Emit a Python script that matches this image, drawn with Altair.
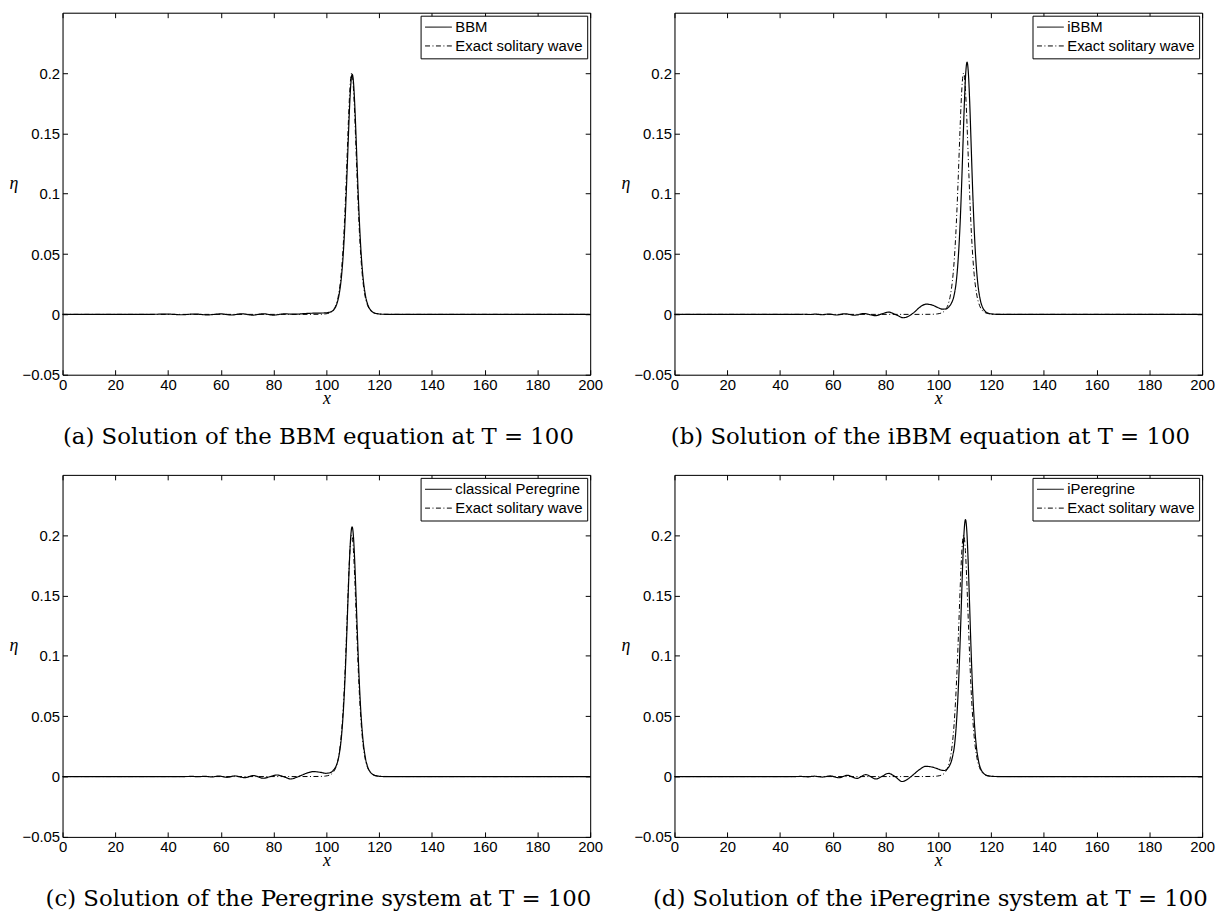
import altair as alt
import pandas as pd

# ---------------- data ----------------
x_ticks = [0, 20, 40, 60, 80, 100, 120, 140, 160, 180, 200]
y_ticks = [-0.05, 0, 0.05, 0.1, 0.15, 0.2]

exact_name = "Exact solitary wave"
exact_x = [0, 60, 90, 97.6, 99.6, 101.6, 102.6, 103.6, 104.6, 105.6,
           106.1, 106.6, 107.1, 107.6, 108.1, 108.6, 109.1, 109.6, 110.1, 110.6,
           111.1, 111.6, 112.1, 112.6, 113.1, 113.6, 114.6, 115.6, 116.6, 117.6,
           119.6, 121.6, 130, 160, 200]
exact_eta = [0, 0, 0, 0.0001, 0.0004, 0.0016, 0.0035, 0.0076, 0.0160, 0.0331,
             0.0468, 0.0651, 0.0882, 0.1157, 0.1453, 0.1728, 0.1927, 0.2000, 0.1927, 0.1728,
             0.1453, 0.1157, 0.0882, 0.0651, 0.0468, 0.0331, 0.0160, 0.0076, 0.0035, 0.0016,
             0.0004, 0.0001, 0, 0, 0]

bbm_x = [0, 30, 40, 45, 50, 55, 60, 64, 68, 72, 76, 80, 84, 88, 92, 95,
         97.8, 99.8, 101.8, 102.8, 103.8, 104.8, 105.8,
         106.3, 106.8, 107.3, 107.8, 108.3, 108.8, 109.3, 109.8, 110.3, 110.8,
         111.3, 111.8, 112.3, 112.8, 113.3,
         113.8, 114.8, 115.8, 116.8, 117.8, 119.8, 121.8, 130, 160, 200]
bbm_eta = [0, 0, 0.0002, -0.0003, 0.0003, -0.0004, 0.0004, -0.0005, 0.0005, -0.0006,
           0.0005, -0.0006, 0.0004, 0.0002, 0.0007, 0.0010,
           0.0011, 0.0013, 0.0022, 0.0038, 0.0077, 0.0161, 0.0330,
           0.0467, 0.0649, 0.0879, 0.1152, 0.1446, 0.1719, 0.1917, 0.1990, 0.1917, 0.1719,
           0.1446, 0.1151, 0.0878, 0.0648, 0.0466,
           0.0329, 0.0159, 0.0075, 0.0035, 0.0016, 0.0004, 0.0001, 0, 0, 0]

ibbm_x = [0, 40, 45, 49, 51, 53.5, 56, 58.5, 61.5, 64.5,
          68.3, 71.7, 76.1, 78.6, 81.1, 84, 86.7, 89, 91, 93,
          95.5, 98, 100, 101.5, 102.9, 103.9, 104.9, 105.9, 106.9, 107.4,
          107.9, 108.4, 108.9, 109.4, 109.9, 110.4, 110.9, 111.4, 111.9, 112.4,
          112.9, 113.4, 113.9, 114.4, 114.9, 115.9, 116.9, 117.9, 118.9, 120.9,
          123, 160, 200]
ibbm_eta = [0, 0, 0, 0.0001, -0.0001, 0.0002, -0.0003, 0.0003, -0.0005, 0.0005,
            -0.0007, 0.0007, -0.0010, 0.0004, 0.0019, -0.0003, -0.0028, -0.0012, 0.0020, 0.0060,
            0.0085, 0.0075, 0.0055, 0.0044, 0.0045, 0.0060, 0.0090, 0.0150, 0.0290, 0.0415,
            0.0590, 0.0820, 0.1110, 0.1440, 0.1761, 0.2000, 0.2090, 0.2000, 0.1761, 0.1439,
            0.1107, 0.0813, 0.0576, 0.0399, 0.0271, 0.0122, 0.0053, 0.0023, 0.0010, 0.0002,
            0, 0, 0]

per_x = [0, 40, 45, 49.5, 51.5, 54, 56.5, 59.3, 62.3, 65.3,
         69, 72.4, 76.2, 78.7, 81.2, 84, 86.5, 88.5, 90.5, 93,
         95.2, 97.75, 99.75, 101.75, 102.75, 103.75, 104.75, 105.75, 106.25, 106.75,
         107.25, 107.75, 108.25, 108.75, 109.25, 109.75, 110.25, 110.75, 111.25, 111.75,
         112.25, 112.75, 113.25, 113.75, 114.75, 115.75, 116.75, 117.75, 119.75, 122,
         160, 200]
per_eta = [0, 0, 0, 0.0001, -0.0001, 0.0002, -0.0003, 0.0004, -0.0006, 0.0005,
           -0.0009, 0.0008, -0.0014, 0.0000, 0.0013, -0.0002, -0.0020, -0.0008, 0.0010, 0.0032,
           0.0041, 0.0035, 0.0027, 0.0035, 0.0055, 0.0090, 0.0170, 0.0338, 0.0478, 0.0665,
           0.0903, 0.1188, 0.1497, 0.1785, 0.1993, 0.2070, 0.1993, 0.1785, 0.1497, 0.1188,
           0.0903, 0.0664, 0.0476, 0.0335, 0.0161, 0.0075, 0.0035, 0.0016, 0.0003, 0,
           0, 0]

iper_x = [0, 40, 45, 48, 50.5, 53, 56, 59.1, 62.3, 65.5,
          69.2, 72.5, 76.4, 78.8, 81.1, 83.7, 86.3, 88.5, 90.5, 93,
          95.2, 98.3, 100.3, 101.3, 102.3, 103.3, 104.3, 105.3, 106.3, 106.8,
          107.3, 107.8, 108.3, 108.8, 109.3, 109.8, 110.3, 110.8, 111.3, 111.8,
          112.3, 112.8, 113.3, 113.8, 114.3, 115.3, 116.3, 117.3, 118.3, 120.3,
          123, 160, 200]
iper_eta = [0, 0, 0, 0.0001, -0.0002, 0.0003, -0.0004, 0.0005, -0.0010, 0.0010,
            -0.0015, 0.0016, -0.0020, 0.0003, 0.0027, -0.0002, -0.0041, -0.0020, 0.0015, 0.0060,
            0.0085, 0.0075, 0.0060, 0.0052, 0.0050, 0.0062, 0.0092, 0.0155, 0.0290, 0.0420,
            0.0600, 0.0838, 0.1133, 0.1467, 0.1795, 0.2038, 0.2130, 0.2038, 0.1795, 0.1467,
            0.1128, 0.0828, 0.0587, 0.0406, 0.0276, 0.0124, 0.0054, 0.0024, 0.0010, 0.0002,
            0, 0, 0]

panels = [
    ("BBM", bbm_x, bbm_eta, "(a) Solution of the BBM equation at T = 100"),
    ("iBBM", ibbm_x, ibbm_eta, "(b) Solution of the iBBM equation at T = 100"),
    ("classical Peregrine", per_x, per_eta, "(c) Solution of the Peregrine system at T = 100"),
    ("iPeregrine", iper_x, iper_eta, "(d) Solution of the iPeregrine system at T = 100"),
]

SANS = "Liberation Sans"
SERIF = "Liberation Serif"
CAPTION_FONT = "DejaVu Serif"
W, H = 532, 365
FS = 15


def make_panel(name, xs, ys, caption):
    df_num = pd.DataFrame({"x": xs, "eta": ys, "series": name})
    df_ex = pd.DataFrame({"x": exact_x, "eta": exact_eta, "series": exact_name})

    xsc = alt.Scale(domain=[0, 200], nice=False, zero=False)
    ysc = alt.Scale(domain=[-0.05, 0.25], nice=False, zero=False)
    dash_scale = alt.Scale(domain=[name, exact_name], range=[[1, 0], [5, 2.5, 1, 2.5]])
    legend = alt.Legend(
        title=None, orient="top-right", offset=3, strokeColor="black",
        fillColor="white", padding=4, cornerRadius=0,
        labelFont=SANS, labelFontSize=FS, labelColor="black",
        symbolType="stroke", symbolSize=729, symbolStrokeWidth=1,
        symbolStrokeColor="black", labelOffset=3, rowPadding=3, clipHeight=15,
    )
    frame = dict(domain=True, domainColor="black", domainWidth=1, grid=False,
                 ticks=False, tickSize=0, offset=0)
    inward = dict(domain=False, grid=False, labels=False, title=None,
                  ticks=True, tickSize=5, offset=-5, tickColor="black", tickWidth=1)

    ax_bottom = alt.Axis(orient="bottom", values=x_ticks, labelFlush=False,
                         labelOverlap=False, labelPadding=3, format="d",
                         labelFont=SANS, labelFontSize=FS, labelColor="black",
                         title="x", titleFont=SERIF, titleFontStyle="italic",
                         titleFontWeight="normal", titleFontSize=18,
                         titleColor="black", titlePadding=-3, **frame)
    ax_left = alt.Axis(orient="left", values=y_ticks, labelPadding=3,
                       labelOverlap=False, format="~g",
                       labelFont=SANS, labelFontSize=FS, labelColor="black",
                       title="η", titleFont=SERIF, titleFontStyle="italic",
                       titleFontWeight="normal", titleFontSize=18,
                       titleColor="black", titleAngle=0, titleAlign="right",
                       titleBaseline="middle", titleY=172, titlePadding=4,
                       **frame)
    ax_top = alt.Axis(orient="top", values=x_ticks, labels=False, title=None, **frame)
    ax_right = alt.Axis(orient="right", values=y_ticks, labels=False, title=None, **frame)

    tk_bottom = alt.Axis(orient="bottom", values=x_ticks, **inward)
    tk_top = alt.Axis(orient="top", values=x_ticks, **inward)
    tk_left = alt.Axis(orient="left", values=y_ticks, **inward)
    tk_right = alt.Axis(orient="right", values=y_ticks, **inward)

    exact = alt.Chart(df_ex).mark_line(
        color="black", strokeWidth=1, interpolate="monotone"
    ).encode(
        x=alt.X("x:Q", scale=xsc, axis=ax_top),
        y=alt.Y("eta:Q", scale=ysc, axis=ax_right),
        strokeDash=alt.StrokeDash("series:N", scale=dash_scale, legend=legend),
    )
    num = alt.Chart(df_num).mark_line(
        color="black", strokeWidth=1.2, interpolate="monotone"
    ).encode(
        x=alt.X("x:Q", scale=xsc, axis=ax_bottom),
        y=alt.Y("eta:Q", scale=ysc, axis=ax_left),
        strokeDash=alt.StrokeDash("series:N", scale=dash_scale, legend=legend),
    )
    # carriers for the inward tick marks (lines themselves are not shown)
    tk1 = alt.Chart(df_ex).mark_line(strokeOpacity=0).encode(
        x=alt.X("x:Q", scale=xsc, axis=tk_bottom),
        y=alt.Y("eta:Q", scale=ysc, axis=tk_left),
    )
    tk2 = alt.Chart(df_ex).mark_line(strokeOpacity=0).encode(
        x=alt.X("x:Q", scale=xsc, axis=tk_top),
        y=alt.Y("eta:Q", scale=ysc, axis=tk_right),
    )
    return alt.layer(exact, num, tk1, tk2).resolve_axis(
        x="independent", y="independent"
    ).properties(
        width=W, height=H,
        title=alt.TitleParams(caption, orient="bottom", anchor="middle",
                              font=CAPTION_FONT, fontSize=23, fontWeight="normal",
                              color="black", offset=19, dx=-8),
    )


ch = [make_panel(*p) for p in panels]
row1 = alt.hconcat(ch[0], ch[1], spacing=16).resolve_scale(
    strokeDash="independent").resolve_legend(strokeDash="independent")
row2 = alt.hconcat(ch[2], ch[3], spacing=16).resolve_scale(
    strokeDash="independent").resolve_legend(strokeDash="independent")

chart = alt.vconcat(row1, row2, spacing=24).resolve_scale(
    strokeDash="independent").resolve_legend(strokeDash="independent"
).properties(
    padding={"left": 0, "top": 0, "right": 0, "bottom": 0}
).configure_view(
    stroke="transparent"
).configure(background="white")

chart.save("out.html", embed_options={"renderer": "svg", "actions": False})
